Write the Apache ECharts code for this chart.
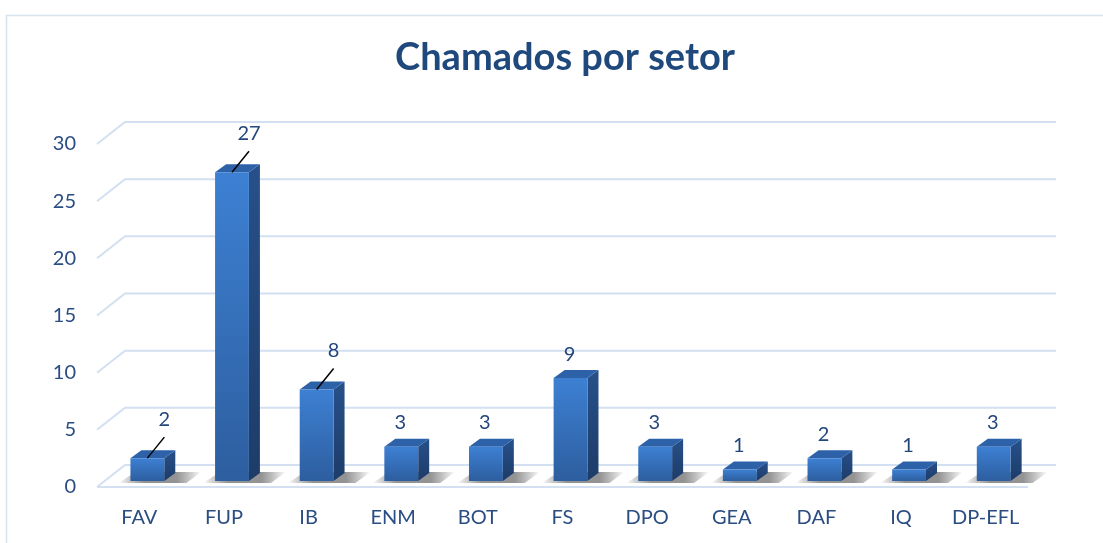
<!DOCTYPE html>
<html>
<head>
<meta charset="utf-8">
<script src="https://cdn.jsdelivr.net/npm/echarts@6/dist/echarts.min.js"></script>
<style>
html,body{margin:0;padding:0;background:#fff;}
#chart{width:1103px;height:543px;}
</style>
</head>
<body>
<div id="chart"></div>
<script>
// ---- data ----
var categories = ['FAV','FUP','IB','ENM','BOT','FS','DPO','GEA','DAF','IQ','DP-EFL'];
var values = [2, 27, 8, 3, 3, 9, 3, 1, 2, 1, 3];
var leaderLabel = [true, true, true, false, false, false, false, false, false, false, false];
var yTicks = [0, 5, 10, 15, 20, 25, 30];
var titleText = 'Chamados por setor';

var FONT = 'Lato, "Open Sans", sans-serif';
var DEPTH_X = 28, DEPTH_Y = -22;   // wall depth in pixels

var chart = echarts.init(document.getElementById('chart'));

function renderWall(params, api) {
  var v = api.value(0);
  var cs = params.coordSys;
  var p = api.coord([0, v]);
  var xl = cs.x, xr = cs.x + cs.width;
  var y = p[1];
  var pts = [[xl, y], [xl + DEPTH_X, y + DEPTH_Y], [xr + DEPTH_X, y + DEPTH_Y]];
  var children = [{
    type: 'polyline',
    shape: { points: pts },
    style: { stroke: '#d3e0f1', lineWidth: 2, fill: null }
  }];
  if (v === 0) {
    children.push({
      type: 'line',
      shape: { x1: xl, y1: y, x2: xr, y2: y },
      style: { stroke: '#d3e0f1', lineWidth: 2 }
    });
  }
  return { type: 'group', children: children };
}

function renderBar(params, api) {
  var i = api.value(0);
  var v = api.value(1);
  var p0 = api.coord([i, 0]);
  var pv = api.coord([i, v]);
  var bw = api.size([1, 0])[0];
  var c = p0[0] + bw * 0.095;
  var w = bw * 0.40;
  var dx = bw * 0.13, dy = -8;
  var x0 = c - w / 2, x1 = c + w / 2;
  var yb = p0[1] - 6, yt = pv[1] - 6;
  var children = [];
  // floor shadow
  children.push({
    type: 'polygon',
    shape: { points: [[x0 - 12, yb + 2], [x1 + 22, yb + 2], [x1 + dx + 26, yb + dy - 1], [x0 + dx - 6, yb + dy - 1]] },
    style: {
      fill: new echarts.graphic.LinearGradient(0, 0, 1, 0, [
        { offset: 0, color: 'rgba(0,0,0,0)' },
        { offset: 0.3, color: 'rgba(40,40,40,0.5)' },
        { offset: 0.7, color: 'rgba(40,40,40,0.5)' },
        { offset: 1, color: 'rgba(0,0,0,0)' }
      ])
    }
  });
  // side
  children.push({
    type: 'polygon',
    shape: { points: [[x1, yt], [x1 + dx, yt + dy], [x1 + dx, yb + dy], [x1, yb]] },
    style: {
      fill: new echarts.graphic.LinearGradient(0, 0, 0, 1, [
        { offset: 0, color: '#27508a' },
        { offset: 1, color: '#1d3c68' }
      ])
    }
  });
  // top
  children.push({
    type: 'polygon',
    shape: { points: [[x0, yt], [x1, yt], [x1 + dx, yt + dy], [x0 + dx, yt + dy]] },
    style: { fill: '#2e62a8' }
  });
  // front
  children.push({
    type: 'rect',
    shape: { x: x0, y: yt, width: w, height: yb - yt },
    style: {
      fill: new echarts.graphic.LinearGradient(0, 0, 0, 1, [
        { offset: 0, color: '#3d80d3' },
        { offset: 1, color: '#2d5e9f' }
      ])
    }
  });
  // label
  var lx, ly;
  if (leaderLabel[i]) {
    children.push({
      type: 'line',
      shape: { x1: c, y1: yt, x2: c + 17, y2: yt - 21 },
      style: { stroke: '#000', lineWidth: 1.5 }
    });
    lx = c + 17; ly = yt - 39;
  } else {
    lx = c - 1; ly = yt - 24;
  }
  children.push({
    type: 'text',
    style: {
      x: lx, y: ly, text: String(v),
      fill: '#23477c', font: '20px ' + FONT,
      align: 'center', verticalAlign: 'middle'
    }
  });
  return { type: 'group', children: children };
}

chart.setOption({
  animation: false,
  backgroundColor: '#ffffff',
  title: {
    text: titleText,
    left: 560,
    textAlign: 'center',
    top: 34,
    textStyle: { fontFamily: FONT, fontSize: 38, fontWeight: 'bold', color: '#1f497d' }
  },
  graphic: [{
    type: 'rect',
    left: 4, top: 13,
    shape: { width: 1120, height: 560 },
    style: { fill: null, stroke: '#d7e2ef', lineWidth: 1.5 },
    silent: true, z: -10
  }],
  grid: { left: 97, right: 75, top: 144, bottom: 56 },
  xAxis: {
    type: 'category',
    data: categories,
    axisLine: { show: false },
    axisTick: { show: false },
    axisLabel: { interval: 0, hideOverlap: false, margin: 21, fontFamily: FONT, fontSize: 20, color: '#2a4d82' },
    splitLine: { show: false }
  },
  yAxis: {
    type: 'value',
    min: 0, max: 30, interval: 5,
    axisLine: { show: false },
    axisTick: { show: false },
    splitLine: { show: false },
    axisLabel: { margin: 21, fontFamily: FONT, fontSize: 20, color: '#2a4d82' }
  },
  series: [
    {
      type: 'custom',
      renderItem: renderWall,
      data: yTicks.map(function (t) { return [t]; }),
      encode: { y: 0 },
      z: 1, silent: true
    },
    {
      type: 'custom',
      renderItem: renderBar,
      data: values.map(function (v, i) { return [i, v]; }),
      encode: { x: 0, y: 1 },
      z: 2, silent: true
    }
  ]
});
</script>
</body>
</html>
